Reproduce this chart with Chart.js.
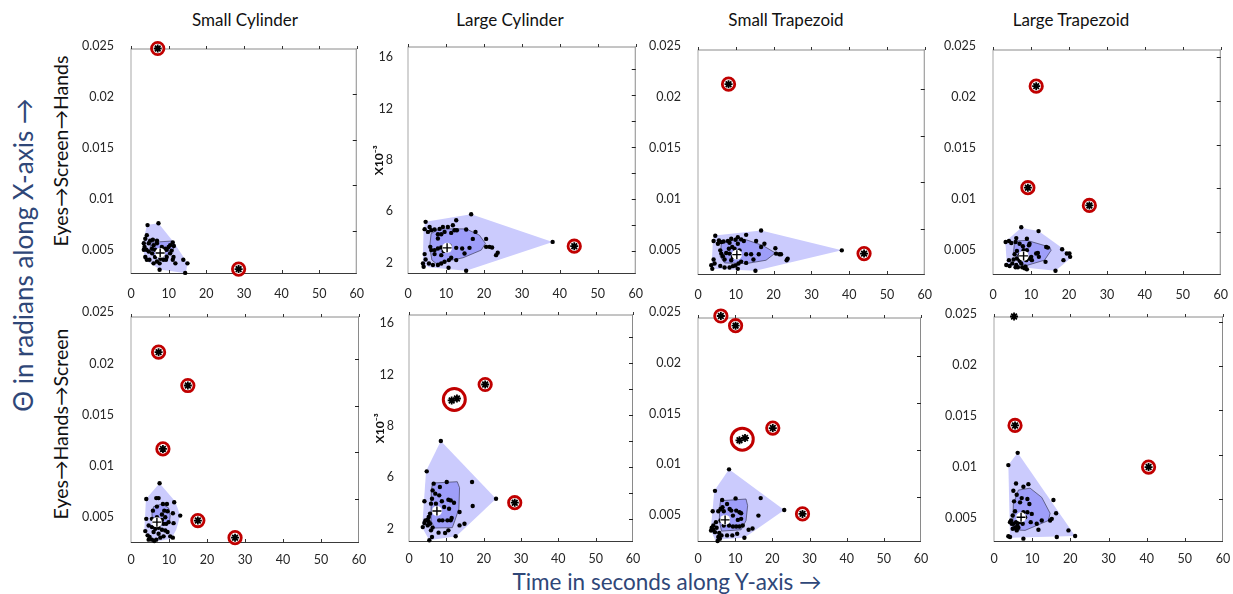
<!DOCTYPE html>
<html>
<head>
<meta charset="utf-8">
<script src="https://cdn.jsdelivr.net/npm/chart.js@4.4.0/dist/chart.umd.min.js"></script>
<style>
  body { margin: 0; width: 1233px; height: 594px; position: relative; overflow: hidden; background: #fff; font-family: Lato, "Open Sans", sans-serif; }
  .panel { position: absolute; }
  .txt { position: absolute; white-space: nowrap; line-height: 1; transform: translate(-50%, -50%); }
  .vert { transform: translate(-50%, -50%) rotate(-90deg); }
  .title { font-size: 17px; color: #111; }
  .axis { color: #2f4778; }
  .row { font-size: 19.5px; color: #111; }
</style>
</head>
<body>
<div class="txt title" style="left:245px;top:19px">Small Cylinder</div>
<div class="txt title" style="left:510px;top:19px">Large Cylinder</div>
<div class="txt title" style="left:786px;top:19px">Small Trapezoid</div>
<div class="txt title" style="left:1071px;top:19px">Large Trapezoid</div>
<div class="txt vert axis" style="left:23px;top:255px;font-size:26px">&Theta; in radians along X-axis &rarr;</div>
<div class="txt vert row" style="left:61px;top:151px">Eyes&rarr;Screen&rarr;Hands</div>
<div class="txt vert row" style="left:61px;top:424px">Eyes&rarr;Hands&rarr;Screen</div>
<div class="txt axis" style="left:667px;top:582px;font-size:22.5px">Time in seconds along Y-axis &rarr;</div>

<script>
/* tick labels as printed on the figure */
const TIME_TICKS = [0, 10, 20, 30, 40, 50, 60];
const RAD_LABELS = ['0.025', '0.02', '0.015', '0.01', '0.005'];
const MILLI_LABELS = ['16', '12', '8', '6', '2'];
const RAD_TICKS = [5, 10, 15, 20, 25];
const MILLI_TICKS = [2, 4, 6, 8, 10, 12, 14, 16];

/* all y values in 10^-3 rad, x in seconds */

/* Small Cylinder, Eyes->Screen->Hands */
const SC_ESH_DOTS = [[4.4,5.6],[7.3,5.8],[4.2,4.5],[3.8,4.1],[3.4,3.6],[3.6,3.2],[4.7,3.6],[5.1,3.9],[6.0,3.4],[6.9,3.6],[8.2,3.2],[9.1,3.0],[10.0,3.2],[11.1,3.7],[11.4,3.3],[10.8,2.8],[10.4,2.5],[9.5,2.1],[8.6,1.8],[7.8,1.9],[6.4,2.1],[5.6,2.5],[4.7,2.7],[3.8,2.1],[4.2,1.8],[6.9,1.6],[7.6,1.4],[9.3,1.8],[11.1,1.8],[11.8,1.4],[13.9,1.8],[15.0,1.4],[14.4,0.35],[7.6,0.7],[5.6,3.0],[6.4,2.9],[7.3,2.7],[8.6,2.7],[9.5,2.9],[10.4,3.4],[4.9,1.8],[6.0,1.4],[8.2,2.3],[5.8,4.0],[3.4,2.9],[4.1,2.9],[6.9,3.9],[11.3,2.1]];
const SC_ESH_OUTER = [[4.2,5.6],[7.3,5.8],[11.3,3.75],[15.0,1.45],[14.6,0.3],[7.75,0.73],[3.6,1.8],[3.2,3.55]];
const SC_ESH_INNER = [[5.3,3.7],[10.8,3.85],[11.4,3.1],[10.4,2.4],[6.4,2.1],[4.9,2.65]];
const SC_ESH_MEDIAN = [7.75, 2.54];
const SC_ESH_OUTLIERS = [[7.1,25.0],[28.6,0.77]];

/* Large Cylinder, Eyes->Screen->Hands */
const LC_ESH_DOTS = [[4.64,4.25],[16.64,4.84],[12.7,4.38],[5.69,3.86],[4.38,3.69],[6.13,3.61],[5.25,3.48],[7.0,3.66],[8.32,3.71],[9.19,3.86],[10.5,3.86],[11.82,3.99],[12.26,3.61],[12.87,3.61],[11.38,3.40],[7.88,3.30],[8.76,3.30],[7.88,2.97],[9.63,3.48],[15.32,3.66],[17.78,3.48],[17.08,2.94],[20.58,2.94],[20.58,2.33],[21.45,2.33],[22.15,2.28],[23.64,1.87],[23.2,1.69],[12.7,2.25],[14.27,2.20],[16.2,2.25],[14.89,1.82],[10.95,2.41],[9.37,2.0],[8.76,1.69],[7.0,1.77],[6.13,2.08],[5.87,2.33],[4.38,1.77],[4.64,1.36],[3.94,1.05],[4.12,0.80],[5.52,1.05],[6.57,0.93],[7.88,0.93],[8.76,1.05],[9.63,1.18],[10.77,1.31],[11.38,1.49],[12.7,1.31],[10.68,0.72],[15.32,0.49],[8.76,2.28],[7.88,2.20],[7.0,2.08],[38.1,2.71]];
const LC_ESH_OUTER = [[4.64,4.25],[16.64,4.84],[38.1,2.71],[15.3,0.49],[5.5,0.75],[3.9,1.05],[4.1,3.71]];
const LC_ESH_INNER = [[6.1,3.35],[8.3,3.71],[15.3,3.71],[18.8,3.23],[20.4,2.59],[19.3,2.08],[14.5,1.49],[7.4,1.05],[6.3,1.31],[5.7,2.33]];
const LC_ESH_MEDIAN = [10.3, 2.25];
const LC_ESH_OUTLIERS = [[43.8,2.38]];

/* Small Trapezoid, Eyes->Screen->Hands */
const ST_ESH_DOTS = [[4.57,4.22],[16.7,4.78],[12.74,4.32],[5.54,3.72],[4.13,3.65],[6.15,3.54],[5.27,3.36],[6.77,3.61],[7.91,3.65],[8.79,3.90],[9.93,3.79],[10.54,3.36],[11.42,3.83],[12.13,3.65],[10.54,4.07],[8.35,3.47],[9.05,3.01],[8.17,2.83],[9.67,2.83],[15.38,3.65],[17.57,3.36],[16.7,3.01],[20.47,2.87],[20.65,2.30],[21.53,2.23],[21.97,2.23],[23.73,1.76],[23.46,1.59],[12.74,2.23],[14.06,2.23],[16.08,2.23],[14.67,1.66],[10.98,2.65],[9.23,1.94],[8.79,1.59],[7.03,1.66],[6.15,2.30],[5.89,2.65],[4.13,1.66],[4.39,1.23],[3.51,1.05],[3.78,0.66],[5.89,0.98],[7.03,0.80],[8.35,0.80],[9.23,0.95],[9.93,1.02],[10.72,1.23],[11.42,1.44],[12.74,1.30],[10.54,0.66],[15.2,0.45],[7.47,2.37],[8.35,2.30],[6.59,2.01],[38.05,2.65]];
const ST_ESH_OUTER = [[4.39,4.25],[16.7,4.78],[38.05,2.65],[15.2,0.45],[3.95,0.66],[3.6,1.05],[3.95,3.72]];
const ST_ESH_INNER = [[6.15,3.36],[8.35,3.72],[12.74,3.79],[17.14,3.18],[20.47,2.37],[18.0,1.59],[12.74,1.23],[7.03,1.30],[5.9,1.94]];
const ST_ESH_MEDIAN = [10.28, 2.19];
const ST_ESH_OUTLIERS = [[8.08,20.53],[43.94,2.30]];

/* Large Trapezoid, Eyes->Screen->Hands */
const LT_ESH_DOTS = [[7.44,5.53],[12.0,5.08],[3.33,3.83],[4.20,3.94],[4.82,3.72],[6.13,4.28],[5.95,3.83],[7.0,3.64],[8.93,4.21],[9.63,3.64],[9.46,3.45],[8.06,2.89],[6.30,2.81],[5.69,2.43],[5.43,1.83],[4.20,1.75],[3.50,1.19],[4.38,1.08],[5.95,0.93],[6.57,0.93],[7.71,0.93],[8.32,0.82],[8.93,0.70],[8.58,1.0],[7.44,1.38],[7.0,1.68],[6.30,1.94],[9.63,1.94],[10.07,2.13],[10.25,1.75],[11.38,2.51],[11.82,2.58],[12.08,2.13],[13.84,1.56],[14.01,3.26],[14.45,3.19],[18.21,3.0],[18.56,1.75],[19.44,2.51],[20.14,2.51],[20.32,2.13],[16.46,0.54],[6.13,1.19],[5.08,1.38],[8.93,2.89],[7.88,3.34],[7.0,2.32],[8.76,1.75]];
const LT_ESH_OUTER = [[7.44,5.46],[12.0,5.08],[18.39,3.08],[20.67,2.06],[16.46,0.54],[3.68,1.11],[3.24,3.87]];
const LT_ESH_INNER = [[5.69,3.94],[8.93,4.02],[14.89,3.26],[15.32,2.89],[13.57,1.75],[8.93,1.15],[7.0,1.38],[5.43,2.70]];
const LT_ESH_MEDIAN = [8.06, 2.24];
const LT_ESH_OUTLIERS = [[11.38,21.70],[9.19,10.06],[25.39,8.02]];

/* Small Cylinder, Eyes->Hands->Screen */
const SC_EHS_DOTS = [[7.52,6.69],[4.02,5.0],[6.65,5.10],[7.26,5.10],[11.37,4.65],[9.45,4.47],[8.40,4.47],[6.82,4.19],[5.77,3.76],[8.75,3.76],[9.62,3.69],[4.02,2.88],[5.51,2.88],[11.02,3.48],[12.95,3.23],[8.14,2.77],[8.57,2.35],[9.89,2.53],[11.2,2.42],[4.64,2.17],[5.51,2.0],[6.39,1.82],[7.26,1.93],[8.14,1.72],[9.01,1.64],[9.62,1.47],[10.32,1.01],[11.02,0.87],[3.76,1.57],[4.37,1.12],[4.90,0.94],[5.51,0.66],[6.12,0.52],[6.65,0.66],[7.70,0.87],[8.57,1.01],[4.64,0.66],[9.27,2.35],[5.95,1.47],[7.26,1.29],[6.82,3.06],[8.14,3.34],[9.01,3.06]];
const SC_EHS_OUTER = [[7.52,6.69],[11.64,4.75],[12.95,3.23],[11.9,1.72],[10.59,0.76],[5.51,0.37],[3.5,1.57],[3.94,5.0]];
const SC_EHS_INNER = [[5.95,4.19],[8.14,4.47],[9.89,4.05],[10.32,3.23],[10.06,2.42],[7.7,2.17],[5.77,2.35],[5.51,3.41]];
const SC_EHS_MEDIAN = [6.82, 2.53];
const SC_EHS_OUTLIERS = [[7.26,20.71],[14.96,17.14],[8.40,10.36],[17.59,2.70],[27.38,0.87]];

/* Large Cylinder, Eyes->Hands->Screen */
const LC_EHS_DOTS = [[8.53,7.99],[4.75,5.65],[6.60,4.70],[10.11,4.83],[8.27,4.44],[6.33,4.18],[7.04,3.93],[8.09,3.80],[6.16,3.54],[4.13,3.34],[8.80,3.34],[10.55,3.46],[11.17,3.41],[12.05,3.23],[5.89,3.16],[10.73,2.77],[13.54,2.51],[17.06,2.98],[16.89,4.83],[23.31,3.54],[5.63,2.39],[5.28,2.13],[5.01,1.92],[4.40,1.87],[4.13,1.67],[3.69,1.35],[5.01,1.48],[5.63,1.61],[6.33,1.31],[5.89,1.10],[6.16,0.59],[5.45,0.33],[7.92,0.92],[9.67,0.90],[10.55,1.10],[12.49,0.64],[8.09,1.87],[8.97,1.87],[10.29,1.87],[11.17,1.87],[11.43,2.05],[13.54,1.48],[14.86,1.61],[9.41,2.90],[7.21,3.16],[6.77,2.59],[5.28,1.74]];
const LC_EHS_OUTER = [[8.53,7.99],[23.31,3.54],[12.66,0.64],[5.45,0.33],[3.52,1.31],[4.57,5.67]];
const LC_EHS_INNER = [[6.33,4.75],[12.93,4.85],[13.54,4.39],[13.37,2.77],[12.31,1.87],[11.61,1.31],[6.77,1.28],[5.89,1.87],[5.98,4.18]];
const LC_EHS_MEDIAN = [7.48, 2.59];
const LC_EHS_OUTLIERS = [[20.4,12.35],[28.32,3.23]];
const LC_EHS_PAIR = [[11.43,11.12],[12.84,11.27]];

/* Small Trapezoid, Eyes->Hands->Screen */
const ST_EHS_DOTS = [[8.35,7.99],[4.57,5.70],[6.50,4.72],[10.11,4.90],[7.82,4.30],[6.06,3.77],[5.45,3.53],[6.94,3.53],[8.52,3.77],[8.96,3.60],[10.28,3.60],[11.16,3.42],[11.6,3.32],[6.59,3.95],[3.95,3.53],[16.87,4.93],[16.26,3.07],[23.2,3.67],[6.06,2.54],[4.83,2.37],[4.13,2.02],[3.69,1.77],[3.51,1.49],[4.13,1.56],[4.57,1.31],[5.01,1.77],[5.45,0.79],[5.89,0.61],[5.27,0.37],[7.82,0.96],[9.23,0.96],[10.54,1.14],[12.48,0.72],[10.28,1.91],[11.16,1.91],[12.04,2.02],[13.62,1.56],[14.67,1.70],[8.35,2.02],[9.40,1.91],[10.72,2.61],[11.6,2.72],[6.94,2.02],[7.82,2.61],[9.40,3.07],[5.71,1.21],[6.33,0.96]];
const ST_EHS_OUTER = [[8.35,7.99],[23.2,3.67],[12.48,0.72],[4.57,0.51],[3.43,1.56],[4.39,5.70]];
const ST_EHS_INNER = [[6.06,4.65],[12.92,4.83],[13.36,4.12],[12.92,2.54],[11.6,1.56],[6.33,1.42],[5.71,2.54],[5.89,4.12]];
const ST_EHS_MEDIAN = [7.29, 2.61];
const ST_EHS_OUTLIERS = [[6.15,24.3],[10.11,23.27],[20.12,12.38],[28.12,3.25]];
const ST_EHS_PAIR = [[11.16,11.08],[12.65,11.32]];

/* Large Trapezoid, Eyes->Hands->Screen */
const LT_EHS_DOTS = [[6.21,10.21],[3.76,8.83],[5.77,6.75],[9.01,6.68],[7.70,6.38],[5.07,5.93],[5.95,5.49],[7.26,5.11],[8.75,5.0],[9.27,4.44],[5.25,4.74],[6.82,4.63],[7.70,3.51],[8.75,3.51],[9.89,3.33],[5.51,3.62],[4.90,3.14],[4.46,2.58],[4.20,2.40],[4.64,2.21],[5.07,2.21],[5.77,2.40],[6.12,2.02],[5.51,1.76],[4.90,1.65],[5.95,1.47],[6.39,1.76],[7.52,2.21],[11.2,2.21],[11.64,1.54],[12.51,2.58],[14.7,2.58],[15.14,2.77],[15.57,4.89],[16.27,3.40],[19.51,1.47],[21.26,0.83],[16.45,0.72],[7.70,0.54],[4.20,0.72],[3.76,0.80],[6.65,2.40],[9.62,2.40],[8.14,2.95]];
const LT_EHS_OUTER = [[6.21,10.21],[21.26,0.83],[4.2,0.65],[3.76,8.83]];
const LT_EHS_INNER = [[6.39,6.01],[9.45,6.23],[12.51,5.19],[14.7,3.40],[14.26,2.58],[8.14,1.47],[4.9,1.54],[5.07,4.44]];
const LT_EHS_MEDIAN = [7.09, 2.95];
const LT_EHS_OUTLIERS = [[5.51,13.30],[40.5,8.61]];
const LT_EHS_LOOSE = [[5.25,25.58]];

/* plot boxes [left, top, right, bottom], data y ranges, label offsets */
const PANELS = [
  { box: [131, 46, 358, 274], y: [0.23, 25], ticks: RAD_TICKS, labels: RAD_LABELS, labelMin: 0.04, row: 0,
    dots: SC_ESH_DOTS, outer: SC_ESH_OUTER, inner: SC_ESH_INNER, median: SC_ESH_MEDIAN, outliers: SC_ESH_OUTLIERS },
  { box: [408, 46, 637, 274], y: [0.24, 17.74], ticks: MILLI_TICKS, labels: MILLI_LABELS, labelMin: -0.21, row: 0,
    dots: LC_ESH_DOTS, outer: LC_ESH_OUTER, inner: LC_ESH_INNER, median: LC_ESH_MEDIAN, outliers: LC_ESH_OUTLIERS },
  { box: [698, 47, 926, 275], y: [0, 24.26], ticks: RAD_TICKS, labels: RAD_LABELS, labelMin: 0.06, row: 0,
    dots: ST_ESH_DOTS, outer: ST_ESH_OUTER, inner: ST_ESH_INNER, median: ST_ESH_MEDIAN, outliers: ST_ESH_OUTLIERS },
  { box: [993, 47, 1222, 275], y: [0.05, 25.9], ticks: RAD_TICKS, labels: RAD_LABELS, labelMin: 0.06, row: 0,
    dots: LT_ESH_DOTS, outer: LT_ESH_OUTER, inner: LT_ESH_INNER, median: LT_ESH_MEDIAN, outliers: LT_ESH_OUTLIERS },
  { box: [131, 314, 359, 543], y: [0.30, 24.52], ticks: RAD_TICKS, labels: RAD_LABELS, labelMin: 0.08, row: 1,
    dots: SC_EHS_DOTS, outer: SC_EHS_OUTER, inner: SC_EHS_INNER, median: SC_EHS_MEDIAN, outliers: SC_EHS_OUTLIERS },
  { box: [409, 314, 637, 542], y: [0.20, 17.75], ticks: MILLI_TICKS, labels: MILLI_LABELS, labelMin: -0.17, row: 1,
    dots: LC_EHS_DOTS, outer: LC_EHS_OUTER, inner: LC_EHS_INNER, median: LC_EHS_MEDIAN, outliers: LC_EHS_OUTLIERS, pair: LC_EHS_PAIR },
  { box: [698, 315, 925, 542], y: [0.26, 24.14], ticks: RAD_TICKS, labels: RAD_LABELS, labelMin: 0.1, row: 1,
    dots: ST_EHS_DOTS, outer: ST_EHS_OUTER, inner: ST_EHS_INNER, median: ST_EHS_MEDIAN, outliers: ST_EHS_OUTLIERS, pair: ST_EHS_PAIR },
  { box: [994, 314, 1223, 542], y: [0.16, 25.58], ticks: RAD_TICKS, labels: RAD_LABELS, labelMin: 0.05, row: 1,
    dots: LT_EHS_DOTS, outer: LT_EHS_OUTER, inner: LT_EHS_INNER, median: LT_EHS_MEDIAN, outliers: LT_EHS_OUTLIERS, loose: LT_EHS_LOOSE }
];

const FONT = 'Lato, "Open Sans", sans-serif';

function pts(list) {
  return list.map(function (p) { return { x: p[0], y: p[1] }; });
}
function centre(list) {
  const n = list.length;
  return {
    x: list.reduce(function (s, p) { return s + p[0]; }, 0) / n,
    y: list.reduce(function (s, p) { return s + p[1]; }, 0) / n
  };
}

/* hulls and the box with its small tick marks */
const framePlugin = {
  id: 'frame',
  beforeDatasetsDraw: function (chart) {
    const p = chart.canvas.panel;
    const ctx = chart.ctx, a = chart.chartArea;
    const xs = chart.scales.x, ys = chart.scales.y;
    ctx.save();

    [[p.outer, '#cbcbfd', null], [p.inner, '#9e9ef9', '#3c3c5a']].forEach(function (h) {
      ctx.beginPath();
      h[0].forEach(function (v, i) {
        const px = xs.getPixelForValue(v[0]), py = ys.getPixelForValue(v[1]);
        if (i) ctx.lineTo(px, py); else ctx.moveTo(px, py);
      });
      ctx.closePath();
      ctx.fillStyle = h[1];
      ctx.fill();
      if (h[2]) { ctx.strokeStyle = h[2]; ctx.lineWidth = 0.7; ctx.stroke(); }
    });

    function line(x1, y1, x2, y2, color, w) {
      ctx.beginPath();
      ctx.moveTo(x1, y1); ctx.lineTo(x2, y2);
      ctx.strokeStyle = color; ctx.lineWidth = w; ctx.stroke();
    }
    line(a.left, a.top, a.left, a.bottom, '#c4c4c4', 1.5);
    line(a.left, a.top + 0.5, a.right, a.top + 0.5, '#8a8a8a', 1);
    line(a.right - 0.5, a.top, a.right - 0.5, a.bottom, '#8a8a8a', 1);
    line(a.left, a.bottom - 0.5, a.right, a.bottom - 0.5, '#3a3a3a', 1.2);

    TIME_TICKS.forEach(function (t) {
      const px = Math.round(xs.getPixelForValue(t)) + 0.5;
      line(px, a.top + 0.5, px, a.top - 2.5, '#333', 1);
      if (px > a.left + 2 && px < a.right - 2) line(px, a.bottom, px, a.bottom - 4, '#333', 1);
    });
    p.ticks.forEach(function (t) {
      const py = Math.round(ys.getPixelForValue(t)) + 0.5;
      if (py > a.top + 1 && py < a.bottom - 1) line(a.right, py, a.right - 4, py, '#222', 1);
    });
    ctx.restore();
  }
};

PANELS.forEach(function (p) {
  const L = p.box[0], T = p.box[1], R = p.box[2], B = p.box[3];
  const wrap = document.createElement('div');
  wrap.className = 'panel';
  wrap.style.left = (L - 62) + 'px';
  wrap.style.top = (T - 14) + 'px';
  const canvas = document.createElement('canvas');
  canvas.width = R - L + 72;
  canvas.height = B - T + 48;
  canvas.panel = p;
  wrap.appendChild(canvas);
  document.body.appendChild(wrap);

  const milli = p.labels === MILLI_LABELS;
  const axisW = milli ? 36 : 62;
  const stars = p.outliers.concat(p.pair || [], p.loose || []);

  const datasets = [
    { data: pts([p.median]), pointStyle: 'cross', pointRadius: 4.5, pointBorderColor: '#000', pointBorderWidth: 1.4 },
    { data: pts([p.median]), pointStyle: 'circle', pointRadius: 5, pointBackgroundColor: '#fff', pointBorderColor: '#fff', pointBorderWidth: 0 },
    { data: pts(stars), pointStyle: 'star', pointRadius: 4, pointBorderColor: '#000', pointBorderWidth: 1.8 },
    { data: pts(p.outliers), pointStyle: 'circle', pointRadius: 6.2, pointBackgroundColor: '#fff', pointBorderColor: '#c00000', pointBorderWidth: 2.8 },
    { data: p.pair ? [centre(p.pair)] : [], pointStyle: 'circle', pointRadius: 11, pointBackgroundColor: '#fff', pointBorderColor: '#c00000', pointBorderWidth: 3 },
    { data: pts(p.dots), pointStyle: 'circle', pointRadius: 2.2, pointBackgroundColor: '#000', pointBorderColor: '#000', pointBorderWidth: 0 }
  ].map(function (d) {
    return Object.assign({ clip: false, xAxisID: 'x', yAxisID: 'y', showLine: false }, d);
  });

  new Chart(canvas, {
    type: 'scatter',
    data: { datasets: datasets },
    plugins: [framePlugin],
    options: {
      responsive: false,
      animation: false,
      devicePixelRatio: 1,
      events: [],
      layout: { padding: { left: 62 - axisW, top: 14, right: 10, bottom: 0 } },
      plugins: { legend: { display: false }, tooltip: { enabled: false } },
      scales: {
        x: {
          type: 'linear', min: 0, max: 60,
          afterBuildTicks: function (s) { s.ticks = TIME_TICKS.map(function (v) { return { value: v }; }); },
          afterFit: function (s) { s.height = 34; },
          grid: { display: false }, border: { display: false },
          ticks: { color: '#262626', font: { family: FONT, size: 12.5 }, padding: p.row === 0 ? 4 : 1, maxRotation: 0 }
        },
        yl: {
          type: 'linear', position: 'left', reverse: true, min: p.labelMin, max: p.labelMin + 4.43,
          afterBuildTicks: function (s) { s.ticks = p.labels.map(function (v, i) { return { value: i }; }); },
          afterFit: function (s) { s.width = axisW; },
          grid: { display: false }, border: { display: false },
          ticks: { color: '#262626', font: { family: FONT, size: 12.5 }, padding: milli ? 7 : 9,
                   callback: function (v, i) { return p.labels[i]; } },
          title: { display: milli, text: 'X10⁻³', color: '#111', padding: 0,
                   font: { family: FONT, size: 12, weight: 'bold' } }
        },
        y: { type: 'linear', display: false, min: p.y[0], max: p.y[1] }
      }
    }
  });
});
</script>
</body>
</html>
